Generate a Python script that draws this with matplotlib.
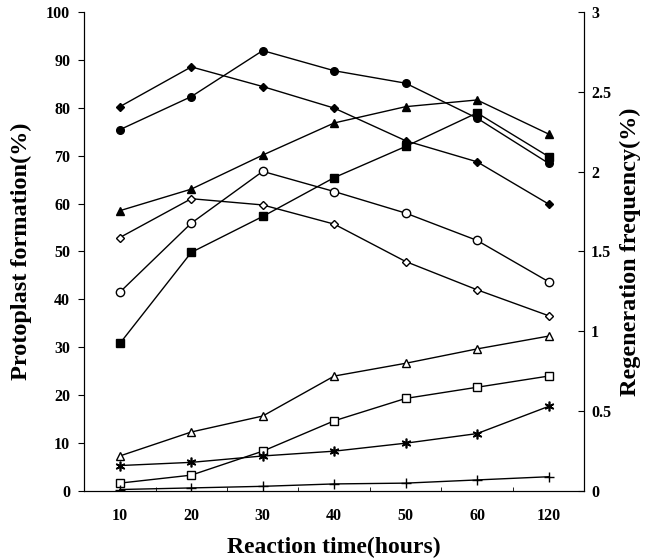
import matplotlib.pyplot as plt
import numpy as np

plt.rcParams['font.family'] = ['Liberation Serif', 'DejaVu Serif']
plt.rcParams['font.weight'] = 'bold'

hours = ['10', '20', '30', '40', '50', '60', '120']

# protoplast formation (%), left axis
filled_diamond = [80.2, 88.5, 84.4, 79.9, 73.1, 68.7, 59.9]
filled_circle = [75.4, 82.3, 91.9, 87.7, 85.1, 77.8, 68.4]
filled_triangle = [58.5, 63.0, 70.1, 76.8, 80.2, 81.6, 74.5]
filled_square = [30.8, 49.8, 57.3, 65.4, 71.9, 78.9, 69.8]
open_circle = [41.5, 55.9, 66.7, 62.5, 58.0, 52.3, 43.7]
open_diamond = [52.9, 61.0, 59.7, 55.7, 47.9, 42.0, 36.6]

# regeneration frequency (%), right axis
open_triangle = [0.22, 0.37, 0.47, 0.72, 0.80, 0.89, 0.97]
open_square = [0.05, 0.10, 0.25, 0.44, 0.58, 0.65, 0.72]
asterisk = [0.16, 0.18, 0.22, 0.25, 0.30, 0.36, 0.53]
plus = [0.01, 0.02, 0.03, 0.045, 0.05, 0.07, 0.09]

x = np.arange(len(hours))

fig = plt.figure(figsize=(6.47, 5.6), dpi=100)
ax = fig.add_axes([0.130, 0.123, 0.773, 0.856])
ax2 = ax.twinx()

kw = dict(color='black', lw=1.0)
ax.plot(x, filled_diamond, marker='D', ms=4.5, **kw)
ax.plot(x, filled_circle, marker='o', ms=5.5, **kw)
ax.plot(x, filled_triangle, marker='^', ms=6, **kw)
ax.plot(x, filled_square, marker='s', ms=5.5, **kw)
ax.plot(x, open_circle, marker='o', ms=6, mfc='white', **kw)
ax.plot(x, open_diamond, marker='D', ms=4.5, mfc='white', **kw)

ax2.plot(x, open_triangle, marker='^', ms=6, mfc='white', **kw)
ax2.plot(x, open_square, marker='s', ms=5.5, mfc='white', **kw)
ax2.plot(x, asterisk, marker=(6, 2, 0), ms=7, mew=1.2, **kw)
ax2.plot(x, plus, marker='+', ms=7, **kw)

ax.set_xlim(-0.5, len(hours) - 0.5)
ax.set_ylim(0, 100)
ax2.set_ylim(0, 3)
ax.set_xticks(x)
ax.set_xticklabels(hours)
ax.set_xticks(x[:-1] + 0.5, minor=True)
ax.set_yticks(np.arange(0, 101, 10))
ax2.set_yticks([0, 0.5, 1, 1.5, 2, 2.5, 3])
ax2.set_yticklabels(['0', '0.5', '1', '1.5', '2', '2.5', '3'])

for a in (ax, ax2):
    a.spines['top'].set_visible(False)
    a.tick_params(labelsize=11.5, width=0.8)
ax.tick_params(axis='x', length=0, pad=12)
ax.tick_params(axis='x', which='minor', direction='in', length=3)
ax.tick_params(axis='y', length=4, pad=6)
ax2.tick_params(axis='y', direction='in', length=4, pad=5)

ax.set_xlabel('Reaction time(hours)', fontsize=17, fontweight='bold')
ax.set_ylabel('Protoplast formation(%)', fontsize=17.5, fontweight='bold')
ax2.set_ylabel('Regeneration frequency(%)', fontsize=17.5, fontweight='bold')
ax.xaxis.set_label_coords(0.5, -0.095)
ax.yaxis.set_label_coords(-0.104, 0.5)
ax2.yaxis.set_label_coords(1.072, 0.5)

fig.savefig('out.png', dpi=100)
